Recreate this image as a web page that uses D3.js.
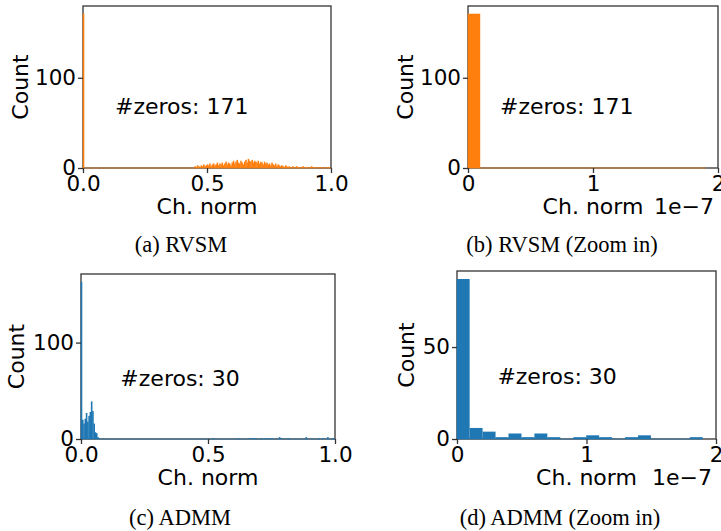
<!DOCTYPE html>
<html>
<head>
<meta charset="utf-8">
<script src="https://cdn.jsdelivr.net/npm/d3@7"></script>
<style>
  body { margin: 0; background: #fff; }
  svg { display: block; }
</style>
</head>
<body>
<svg id="fig" width="721" height="531"></svg>
<script>
// histogram data
const fullBinWidth = 0.005;
const zoomBinWidth = 0.1;   // in units of 1e-7

const rvsmZeroBin = 171;
const rvsmStart = 0.45;
const rvsmCounts = [
  2, 1, 3, 2, 1, 3, 2, 4, 2, 3,
  4, 3, 5, 2, 4, 5, 3, 4, 6, 3,
  5, 4, 6, 3, 5, 7, 4, 6, 5, 3,
  6, 8, 5, 7, 9, 6, 5, 8, 6, 4,
  7, 9, 6, 10, 8, 7, 9, 6, 8, 7,
  6, 8, 5, 7, 6, 4, 7, 5, 6, 4,
  5, 3, 6, 4, 3, 5, 2, 4, 3, 2,
  3, 2, 1, 3, 2, 1, 2, 1, 0, 2,
  1, 0, 2, 1, 1, 0, 1, 2, 0, 1,
  1, 0, 1, 0, 2, 1, 0, 1, 0, 1,
  0, 1, 0, 1, 0, 0, 1, 0, 1, 0
];
const rvsmZoomCounts = [171, 0, 0, 0, 0, 0, 0, 0, 0, 0, 0, 0, 0, 0, 0, 0, 0, 0, 0];

const admmNearZero = [163, 20, 16, 21, 27, 18, 24, 28, 39, 29, 16, 7, 6, 2, 1];
const admmTailX = [0.52, 0.615, 0.665, 0.675, 0.685, 0.71, 0.725, 0.74, 0.75, 0.78, 0.79, 0.815, 0.885, 0.935, 0.95, 0.97, 0.99];
const admmTailCounts = [1, 1, 1, 1, 1, 1, 1, 1, 1, 2, 1, 1, 2, 1, 1, 2, 1];
const admmZoomCounts = [87, 6, 4, 1, 3, 1, 3, 1, 0, 1, 2, 1, 0, 1, 2, 0, 0, 0, 1];

const fullTicks = [0, 0.5, 1];
const zoomTicks = [0, 1, 2];
const zeroLabels = ['#zeros: 171', '#zeros: 171', '#zeros: 30', '#zeros: 30'];
const captions = ['(a) RVSM', '(b) RVSM (Zoom in)', '(c) ADMM', '(d) ADMM (Zoom in)'];

const orange = '#ff7f0e';
const blue = '#1f77b4';
const ink = '#333';
const sans = '"DejaVu Sans", sans-serif';

// bins
const rvsmBins = [{ x0: 0, x1: fullBinWidth, n: rvsmZeroBin }].concat(
  rvsmCounts.map((n, i) => ({ x0: rvsmStart + i * fullBinWidth, x1: rvsmStart + (i + 1) * fullBinWidth, n })));
const admmBins = admmNearZero.map((n, i) => ({ x0: i * fullBinWidth, x1: (i + 1) * fullBinWidth, n }))
  .concat(admmTailX.map((v, i) => ({ x0: v, x1: v + fullBinWidth, n: admmTailCounts[i] })));
const toZoomBins = counts => counts.map((n, i) => ({ x0: i * zoomBinWidth, x1: (i + 1) * zoomBinWidth, n }));

const panels = [
  { bins: rvsmBins, color: orange, left: 83, right: 331, top: 6, bottom: 168, xDomain: [0, 1], base: [0, 1],
    xTicks: fullTicks, xFmt: d3.format('.1f'), yTicks: [0, 100], labelX: 28, zx: 0.129, zy: 0.333,
    capX: 181, capY: 252, offset: false },
  { bins: toZoomBins(rvsmZoomCounts), color: orange, left: 468, right: 718, top: 6, bottom: 168, xDomain: [0, 2],
    base: [0, rvsmZoomCounts.length * zoomBinWidth],
    xTicks: zoomTicks, xFmt: d3.format('d'), yTicks: [0, 100], labelX: 413, zx: 0.128, zy: 0.333,
    capX: 562, capY: 252, offset: true },
  { bins: admmBins, color: blue, left: 81, right: 335, top: 274, bottom: 439, xDomain: [0, 1], base: [0, 1],
    xTicks: fullTicks, xFmt: d3.format('.1f'), yTicks: [0, 100], labelX: 24, zx: 0.155, zy: 0.32,
    capX: 180, capY: 525, offset: false },
  { bins: toZoomBins(admmZoomCounts), color: blue, left: 457, right: 716, top: 271, bottom: 439, xDomain: [0, 2],
    base: [0, admmZoomCounts.length * zoomBinWidth],
    xTicks: zoomTicks, xFmt: d3.format('d'), yTicks: [0, 50], labelX: 414, zx: 0.156, zy: 0.33,
    capX: 560, capY: 525, offset: true }
];

const svg = d3.select('#fig');

panels.forEach((p, k) => {
  const x = d3.scaleLinear().domain(p.xDomain).range([p.left, p.right]);
  const y = d3.scaleLinear().domain([0, d3.max(p.bins, d => d.n) * 1.05]).range([p.bottom, p.top]);
  const g = svg.append('g');

  // frame
  g.append('rect')
    .attr('x', p.left).attr('y', p.top)
    .attr('width', p.right - p.left).attr('height', p.bottom - p.top)
    .attr('fill', 'none').attr('stroke', ink).attr('stroke-width', 1.3);

  // empty bins leave a tinted line on the baseline
  g.append('line')
    .attr('x1', x(p.base[0])).attr('x2', x(p.base[1]))
    .attr('y1', p.bottom).attr('y2', p.bottom)
    .attr('stroke', p.color).attr('stroke-opacity', 0.45).attr('stroke-width', 1.3);

  // bars, at least ~1.6px wide so the thin bins stay visible
  g.selectAll('rect.bar')
    .data(p.bins.filter(d => d.n > 0))
    .join('rect')
    .attr('class', 'bar')
    .attr('x', d => x(d.x0) - 0.3)
    .attr('width', d => Math.max(1.6, x(d.x1) - x(d.x0)))
    .attr('y', d => y(d.n))
    .attr('height', d => y(0) - y(d.n))
    .attr('fill', p.color);

  const xAxis = g.append('g')
    .attr('transform', `translate(0,${p.bottom})`)
    .call(d3.axisBottom(x).tickValues(p.xTicks).tickFormat(p.xFmt).tickSize(5).tickPadding(3));
  const yAxis = g.append('g')
    .attr('transform', `translate(${p.left},0)`)
    .call(d3.axisLeft(y).tickValues(p.yTicks).tickSize(5).tickPadding(2));

  [xAxis, yAxis].forEach(a => {
    a.select('.domain').remove();
    a.selectAll('line').attr('stroke', ink).attr('stroke-width', 1.3);
    a.selectAll('text').attr('fill', '#000').style('font-family', sans).style('font-size', '21.5px');
  });

  // axis labels
  g.append('text')
    .attr('transform', `translate(${p.labelX},${(p.top + p.bottom) / 2}) rotate(-90)`)
    .attr('text-anchor', 'middle')
    .style('font-family', sans).style('font-size', '22px')
    .text('Count');

  g.append('text')
    .attr('x', (p.left + p.right) / 2).attr('y', p.bottom + 46)
    .attr('text-anchor', 'middle')
    .style('font-family', sans).style('font-size', '22px')
    .text('Ch. norm');

  if (p.offset) {
    g.append('text')
      .attr('x', p.right - 4).attr('y', p.bottom + 46)
      .attr('text-anchor', 'end')
      .style('font-family', sans).style('font-size', '22px')
      .text('1e\u22127');
  }

  g.append('text')
    .attr('x', p.left + p.zx * (p.right - p.left))
    .attr('y', p.bottom - p.zy * (p.bottom - p.top))
    .style('font-family', sans).style('font-size', '22px')
    .text(zeroLabels[k]);

  g.append('text')
    .attr('x', p.capX).attr('y', p.capY)
    .attr('text-anchor', 'middle')
    .style('font-family', '"Liberation Serif", "Times New Roman", serif').style('font-size', '22.5px')
    .text(captions[k]);
});
</script>
</body>
</html>
